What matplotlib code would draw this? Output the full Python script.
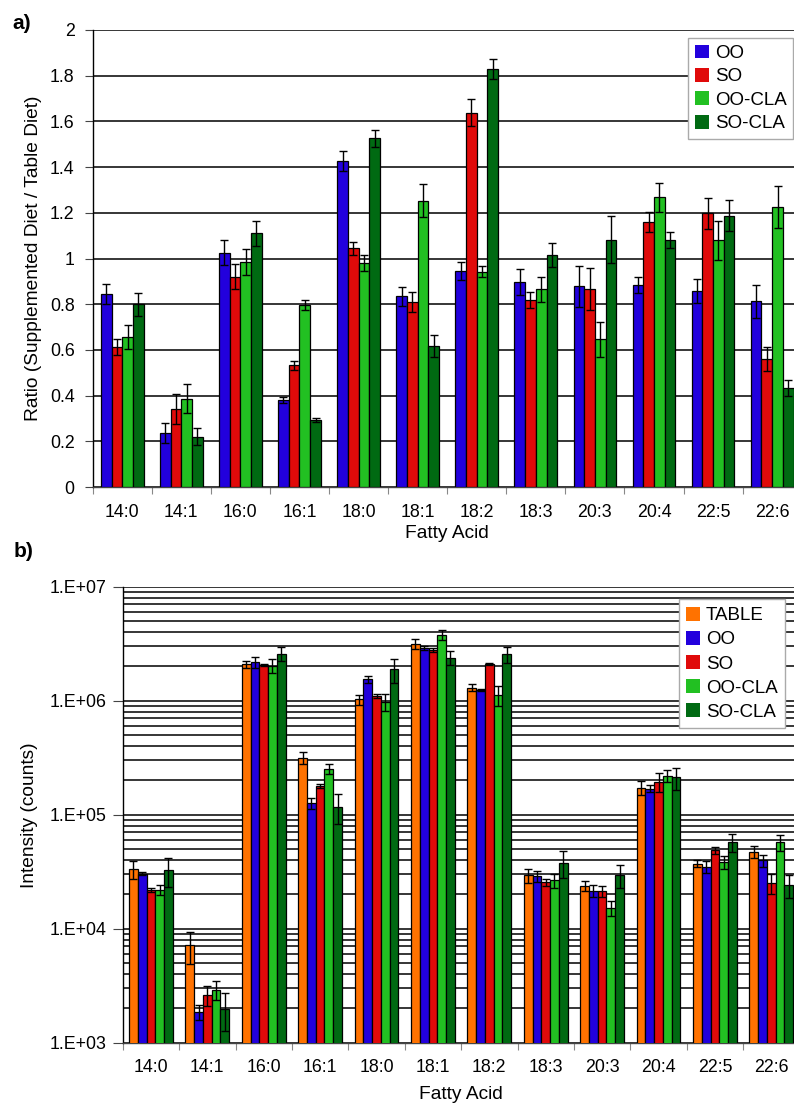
import matplotlib
matplotlib.use("Agg")
import matplotlib.pyplot as plt
import numpy as np
from matplotlib.ticker import FixedLocator, FuncFormatter, NullFormatter, LogLocator

plt.rcParams['font.family'] = ['Liberation Sans', 'DejaVu Sans']

categories = ["14:0", "14:1", "16:0", "16:1", "18:0", "18:1", "18:2", "18:3", "20:3", "20:4", "22:5", "22:6"]

# ---- panel a: ratio ----
ratio_series = ["OO", "SO", "OO-CLA", "SO-CLA"]
ratio_OO = [0.844, 0.236, 1.025, 0.382, 1.427, 0.834, 0.945, 0.899, 0.878, 0.883, 0.857, 0.812]
ratio_OO_err = [0.044, 0.042, 0.055, 0.014, 0.045, 0.042, 0.038, 0.057, 0.091, 0.035, 0.053, 0.073]
ratio_SO = [0.612, 0.341, 0.920, 0.532, 1.044, 0.810, 1.638, 0.818, 0.866, 1.159, 1.198, 0.560]
ratio_SO_err = [0.035, 0.067, 0.054, 0.018, 0.029, 0.044, 0.060, 0.034, 0.092, 0.045, 0.067, 0.052]
ratio_OOCLA = [0.656, 0.386, 0.985, 0.797, 0.981, 1.252, 0.942, 0.866, 0.647, 1.267, 1.080, 1.227]
ratio_OOCLA_err = [0.054, 0.064, 0.058, 0.023, 0.036, 0.072, 0.023, 0.055, 0.076, 0.064, 0.085, 0.092]
ratio_SOCLA = [0.800, 0.220, 1.111, 0.293, 1.526, 0.617, 1.829, 1.017, 1.083, 1.082, 1.188, 0.434]
ratio_SOCLA_err = [0.051, 0.038, 0.055, 0.009, 0.037, 0.050, 0.044, 0.053, 0.104, 0.036, 0.069, 0.035]

# ---- panel b: intensity ----
int_series = ["TABLE", "OO", "SO", "OO-CLA", "SO-CLA"]
int_TABLE = [33200, 7140, 2.08e6, 315e3, 1.026e6, 3.16e6, 1.30e6, 29.4e3, 23.7e3, 173e3, 37.2e3, 47.1e3]
int_TABLE_err = [6100, 2220, 0.16e6, 38e3, 0.10e6, 0.29e6, 0.09e6, 4.3e3, 2.5e3, 25e3, 2.6e3, 5.7e3]
int_OO = [30.4e3, 1860, 2.17e6, 127e3, 1.535e6, 2.91e6, 1.24e6, 28.9e3, 21.4e3, 169e3, 34.8e3, 39.8e3]
int_OO_err = [1100, 290, 0.25e6, 14e3, 0.10e6, 0.10e6, 0.03e6, 3.0e3, 2.6e3, 12e3, 4.3e3, 4.8e3]
int_SO = [21.7e3, 2600, 2.05e6, 178e3, 1.105e6, 2.78e6, 2.09e6, 25.7e3, 21.4e3, 194e3, 48.8e3, 25.3e3]
int_SO_err = [900, 520, 0.04e6, 7e3, 0.05e6, 0.12e6, 0.03e6, 1.8e3, 2.3e3, 36e3, 3.2e3, 5.1e3]
int_OOCLA = [22.0e3, 2920, 2.02e6, 254e3, 0.977e6, 3.77e6, 1.12e6, 26.6e3, 15.2e3, 219e3, 38.5e3, 57.7e3]
int_OOCLA_err = [2400, 550, 0.28e6, 27e3, 0.16e6, 0.37e6, 0.22e6, 3.8e3, 2.3e3, 27e3, 5e3, 9.3e3]
int_SOCLA = [32.5e3, 1990, 2.57e6, 118e3, 1.88e6, 2.38e6, 2.55e6, 37.8e3, 29.4e3, 212e3, 57.7e3, 24.0e3]
int_SOCLA_err = [9.5e3, 730, 0.36e6, 35e3, 0.44e6, 0.34e6, 0.40e6, 10e3, 6.6e3, 47e3, 10.5e3, 5.4e3]

colors = {"TABLE": "#ff7200", "OO": "#2200dd", "SO": "#e00a0a",
          "OO-CLA": "#22c022", "SO-CLA": "#006a12"}

W, H = 794, 1107
fig = plt.figure(figsize=(W / 100, H / 100), dpi=100)

TICK_FS = 12.8
LAB_FS = 13.8
LEG_FS = 13.5

def px_axes(left, top, right, bottom):
    return fig.add_axes([left / W, 1 - bottom / H, (right - left) / W, (bottom - top) / H])

def style_x(ax, n, labelpad):
    ax.set_xlim(0, n)
    ax.xaxis.set_major_locator(FixedLocator(np.arange(0, n + 1)))
    ax.xaxis.set_major_formatter(NullFormatter())
    ax.xaxis.set_minor_locator(FixedLocator(np.arange(n) + 0.5))
    ax.xaxis.set_minor_formatter(FuncFormatter(lambda v, p: categories[int(v)]))
    ax.tick_params(axis='x', which='major', direction='out', length=5, width=0.8, color='#888888')
    ax.tick_params(axis='x', which='minor', length=0, labelsize=TICK_FS, pad=12)
    ax.set_xlabel("Fatty Acid", fontsize=LAB_FS, labelpad=labelpad)

# ---------- panel a ----------
ax1 = px_axes(92.7, 30, 801.7, 487)
x = np.arange(len(categories))
vals_a = [ratio_OO, ratio_SO, ratio_OOCLA, ratio_SOCLA]
errs_a = [ratio_OO_err, ratio_SO_err, ratio_OOCLA_err, ratio_SOCLA_err]
bw = 0.181
for k, (name, v, e) in enumerate(zip(ratio_series, vals_a, errs_a)):
    pos = x + 0.5 + (k - 1.5) * bw
    ax1.bar(pos, v, width=bw, color=colors[name], edgecolor='black', linewidth=0.9,
            label=name, zorder=3)
    ax1.errorbar(pos, v, yerr=e, fmt='none', ecolor='black', elinewidth=1.0,
                 capsize=3.2, capthick=1.0, zorder=4)
ax1.set_ylim(0, 2)
ax1.set_yticks(np.arange(0, 2.01, 0.2))
ax1.yaxis.set_major_formatter(FuncFormatter(lambda v, p: ("%.1f" % v).rstrip('0').rstrip('.') if v != 0 else "0"))
ax1.tick_params(axis='y', direction='out', length=6, width=0.8, labelsize=TICK_FS, pad=7, color='#444444')
ax1.grid(axis='y', color='black', linewidth=1.1, zorder=0)
ax1.set_axisbelow(True)
for s in ['top', 'right']:
    ax1.spines[s].set_visible(False)
ax1.spines['left'].set_linewidth(1.0)
ax1.spines['bottom'].set_linewidth(1.0)
ax1.spines['bottom'].set_color('#444444')
style_x(ax1, len(categories), 3)
ax1.set_ylabel("Ratio (Supplemented Diet / Table Diet)", fontsize=LAB_FS, labelpad=6)
leg1 = ax1.legend(loc='upper right', bbox_to_anchor=(793 / W, 1 - 38 / H),
                  bbox_transform=fig.transFigure, fontsize=LEG_FS, frameon=True,
                  fancybox=False, framealpha=1, edgecolor='#aaaaaa',
                  handlelength=0.75, handleheight=0.75, handletextpad=0.3,
                  labelspacing=0.32, borderpad=0.35, borderaxespad=0)
leg1.get_frame().set_linewidth(1.0)
for h in leg1.legend_handles:
    h.set_edgecolor('none')

# ---------- panel b ----------
ax2 = px_axes(122.7, 586.7, 799.5, 1042.7)
vals_b = [int_TABLE, int_OO, int_SO, int_OOCLA, int_SOCLA]
errs_b = [int_TABLE_err, int_OO_err, int_SO_err, int_OOCLA_err, int_SOCLA_err]
bw2 = 0.155
ax2.set_yscale('log')
for k, (name, v, e) in enumerate(zip(int_series, vals_b, errs_b)):
    pos = x + 0.5 + (k - 2) * bw2
    ax2.bar(pos, v, width=bw2, color=colors[name], edgecolor='black', linewidth=0.9,
            label=name, zorder=3)
    ax2.errorbar(pos, v, yerr=e, fmt='none', ecolor='black', elinewidth=1.0,
                 capsize=3.0, capthick=1.0, zorder=4)
ax2.set_ylim(1e3, 1e7)
ax2.yaxis.set_major_locator(FixedLocator([1e3, 1e4, 1e5, 1e6, 1e7]))
ax2.yaxis.set_major_formatter(FuncFormatter(lambda v, p: "1.E+%02d" % int(round(np.log10(v)))))
ax2.yaxis.set_minor_locator(LogLocator(base=10, subs=np.arange(2, 10)))
ax2.yaxis.set_minor_formatter(NullFormatter())
ax2.tick_params(axis='y', which='major', direction='out', length=7, width=0.8,
                labelsize=TICK_FS, pad=5, color='#444444')
ax2.tick_params(axis='y', which='minor', length=0)
ax2.grid(axis='y', which='both', color='black', linewidth=1.1, zorder=0)
ax2.set_axisbelow(True)
for s in ['top', 'right']:
    ax2.spines[s].set_visible(False)
ax2.spines['left'].set_linewidth(1.0)
ax2.spines['bottom'].set_linewidth(1.0)
ax2.spines['bottom'].set_color('#444444')
style_x(ax2, len(categories), 7)
ax2.set_ylabel("Intensity (counts)", fontsize=LAB_FS, labelpad=8)
leg2 = ax2.legend(loc='upper right', bbox_to_anchor=(785 / W, 1 - 599.3 / H),
                  bbox_transform=fig.transFigure, fontsize=LEG_FS, frameon=True,
                  fancybox=False, framealpha=1, edgecolor='#aaaaaa',
                  handlelength=0.75, handleheight=0.75, handletextpad=0.3,
                  labelspacing=0.36, borderpad=0.4, borderaxespad=0)
leg2.get_frame().set_linewidth(1.0)
for h in leg2.legend_handles:
    h.set_edgecolor('none')

fig.text(12 / W, 1 - 29 / H, "a)", fontsize=15, fontweight='bold', ha='left', va='baseline')
fig.text(14 / W, 1 - 557 / H, "b)", fontsize=15, fontweight='bold', ha='left', va='baseline')

fig.savefig("out.png", dpi=100)
